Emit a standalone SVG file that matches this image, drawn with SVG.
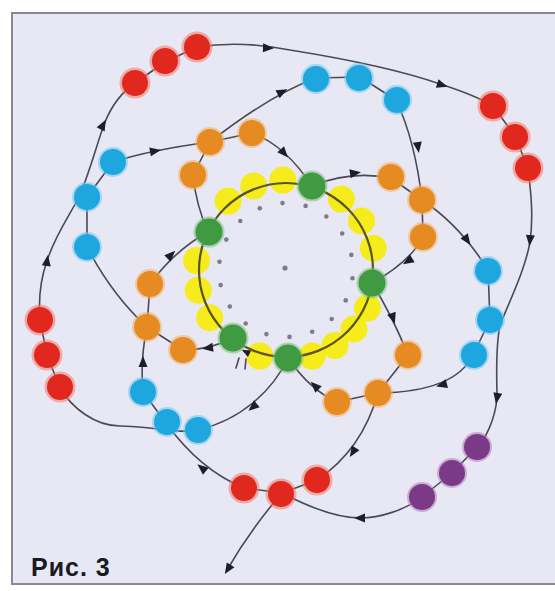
<svg xmlns="http://www.w3.org/2000/svg" width="555" height="591" viewBox="0 0 555 591">
<defs>
<path id="arr" d="M6,0 L-5,-4.5 L-5,4.5 Z"/>
<style>
.thread{fill:none;stroke:#4a4a55;stroke-width:1.6;stroke-linecap:round;stroke-linejoin:round}
.ring{fill:none;stroke:#5a5418;stroke-width:2.2}
.a{fill:#1e1e28}
.red{fill:#e0281e}.redh{fill:#f07a6a;opacity:.55}
.blue{fill:#1ea6df}.blueh{fill:#6cc8f0;opacity:.55}
.orange{fill:#e68a22}.orangeh{fill:#f2b060;opacity:.55}
.green{fill:#3f9a42}.greenh{fill:#7cc07a;opacity:.55}
.yellow{fill:#f6ec1c}
.purple{fill:#7b3a88}.purpleh{fill:#b07ab8;opacity:.55}
.num{fill:#7e7c8c}
.lbl{font-family:"Liberation Sans",Arial,sans-serif;font-weight:bold;font-size:25px;fill:#1a1a22;letter-spacing:1px}
</style>
</defs>
<rect x="0" y="0" width="555" height="591" fill="#ffffff"/>
<rect x="12" y="13" width="560" height="571" fill="#e8e7f4" stroke="#8e8696" stroke-width="2"/>

<g id="ring">
<g id="yellow-beads" class="yellow">
<circle cx="367.5" cy="308.1" r="13.5"/><circle cx="353.9" cy="329" r="13.5"/><circle cx="335" cy="345.5" r="13.5"/><circle cx="312.3" cy="356.1" r="13.5"/>
<circle cx="259.7" cy="356.1" r="13.5"/><circle cx="209.7" cy="317.7" r="13.5"/><circle cx="198.3" cy="290.2" r="13.5"/><circle cx="196.5" cy="260.6" r="13.5"/>
<circle cx="228.1" cy="201.1" r="13.5"/><circle cx="253.7" cy="186" r="13.5"/><circle cx="282.9" cy="180.1" r="13.5"/>
<circle cx="341.4" cy="199.1" r="13.5"/><circle cx="361.5" cy="221" r="13.5"/><circle cx="373.3" cy="248.2" r="13.5"/>
</g>
<circle class="ring" cx="286" cy="270" r="87"/>
<g id="marks" class="num">
<circle cx="285" cy="268" r="2.6"/>
<circle cx="282.5" cy="203.1" r="2.3"/><circle cx="305.6" cy="205.9" r="2.3"/><circle cx="326.3" cy="216.5" r="2.3"/><circle cx="342.2" cy="233.5" r="2.3"/>
<circle cx="351.3" cy="254.9" r="2.3"/><circle cx="352.5" cy="278.2" r="2.3"/><circle cx="345.7" cy="300.4" r="2.3"/><circle cx="331.7" cy="319" r="2.3"/>
<circle cx="312.2" cy="331.7" r="2.3"/><circle cx="289.5" cy="336.9" r="2.3"/><circle cx="266.4" cy="334.1" r="2.3"/><circle cx="245.7" cy="323.5" r="2.3"/>
<circle cx="229.8" cy="306.5" r="2.3"/><circle cx="220.7" cy="285.1" r="2.3"/><circle cx="219.5" cy="261.8" r="2.3"/><circle cx="226.3" cy="239.6" r="2.3"/>
<circle cx="240.3" cy="221" r="2.3"/><circle cx="259.8" cy="208.3" r="2.3"/>
</g>
</g>

<g id="connectors">
<path class="thread" d="M288,358 C272,392 240,420 198,430 C175,434 150,426 120,426 C95,426 72,408 60,388 L47,355 L40,320 C38,295 42,275 47,261 C55,235 70,215 80,195 C92,165 98,140 105,122 C112,105 122,92 135,83 L165,62 L197,47 C230,42 260,44 290,50 C340,58 400,70 440,84 C465,92 480,98 493,106 L515,136 L528,168 C532,200 533,220 530,242 C525,270 510,300 500,325 C495,350 497,380 497,398 C495,420 485,440 477,447 L452,473 L422,497 C405,510 380,518 360,518 C335,518 305,505 282,493 Q250,530 227,570"/>
<path class="thread" d="M372,283 Q392,315 408,355 L378,393 Q362,450 317,480 L282,493 L244,488 Q200,470 166,423 L143,392 Q140,360 147,327 L150,284 Q175,250 208,232 Q196,205 193,175 L210,142 Q270,95 316,78 L360,77 L396,100 Q415,140 422,200 L423,237 Q410,262 372,283"/>
<path class="thread" d="M233,338 Q210,350 183,350 L147,327 Q112,295 87,247 L87,197 L113,162 Q150,150 210,142 L252,133 Q285,145 312,186 Q350,170 391,178 L422,200 Q460,225 488,270 L490,320 L473,355 Q455,392 378,393 L337,402 Q310,390 288,358"/>
<path class="thread" d="M239,358 L236,368 M246,359 L245,369" stroke-width="1.2"/>
<g class="a">
<use href="#arr" transform="translate(103,125) rotate(-62)"/>
<use href="#arr" transform="translate(47,261) rotate(-82)"/>
<use href="#arr" transform="translate(155,151) rotate(-10)"/>
<use href="#arr" transform="translate(268,48) rotate(2)"/>
<use href="#arr" transform="translate(442,85) rotate(17)"/>
<use href="#arr" transform="translate(282,92) rotate(-28)"/>
<use href="#arr" transform="translate(284,153) rotate(48)"/>
<use href="#arr" transform="translate(355,173) rotate(-8)"/>
<use href="#arr" transform="translate(418,147) rotate(82)"/>
<use href="#arr" transform="translate(530,240) rotate(95)"/>
<use href="#arr" transform="translate(467,240) rotate(55)"/>
<use href="#arr" transform="translate(408,261) rotate(148)"/>
<use href="#arr" transform="translate(393,318) rotate(72)"/>
<use href="#arr" transform="translate(442,385) rotate(165)"/>
<use href="#arr" transform="translate(497,398) rotate(100)"/>
<use href="#arr" transform="translate(315,386) rotate(-135)"/>
<use href="#arr" transform="translate(353,452) rotate(122)"/>
<use href="#arr" transform="translate(360,518) rotate(180)"/>
<use href="#arr" transform="translate(253,407) rotate(140)"/>
<use href="#arr" transform="translate(202,468) rotate(-140)"/>
<use href="#arr" transform="translate(143,362) rotate(-90)"/>
<use href="#arr" transform="translate(171,255) rotate(-45)"/>
<use href="#arr" transform="translate(208,348) rotate(172)"/>
<use href="#arr" transform="translate(228,569) rotate(122)"/>
<use href="#arr" transform="translate(246,352) rotate(-153) scale(0.8)"/>
</g>
</g>

<g id="red-top-left"><circle class="redh" cx="135" cy="83" r="15.5"/><circle class="red" cx="135" cy="83" r="13"/><circle class="redh" cx="165" cy="61" r="15.5"/><circle class="red" cx="165" cy="61" r="13"/><circle class="redh" cx="197" cy="47" r="15.5"/><circle class="red" cx="197" cy="47" r="13"/></g>
<g id="red-top-right"><circle class="redh" cx="493" cy="106" r="15.5"/><circle class="red" cx="493" cy="106" r="13"/><circle class="redh" cx="515" cy="137" r="15.5"/><circle class="red" cx="515" cy="137" r="13"/><circle class="redh" cx="528" cy="168" r="15.5"/><circle class="red" cx="528" cy="168" r="13"/></g>
<g id="red-left"><circle class="redh" cx="40" cy="320" r="15.5"/><circle class="red" cx="40" cy="320" r="13"/><circle class="redh" cx="47" cy="355" r="15.5"/><circle class="red" cx="47" cy="355" r="13"/><circle class="redh" cx="60" cy="387" r="15.5"/><circle class="red" cx="60" cy="387" r="13"/></g>
<g id="red-bottom"><circle class="redh" cx="244" cy="488" r="15.5"/><circle class="red" cx="244" cy="488" r="13"/><circle class="redh" cx="281" cy="494" r="15.5"/><circle class="red" cx="281" cy="494" r="13"/><circle class="redh" cx="317" cy="480" r="15.5"/><circle class="red" cx="317" cy="480" r="13"/></g>
<g id="blue-top"><circle class="blueh" cx="316" cy="79" r="15"/><circle class="blue" cx="316" cy="79" r="13"/><circle class="blueh" cx="359" cy="78" r="15"/><circle class="blue" cx="359" cy="78" r="13"/><circle class="blueh" cx="397" cy="100" r="15"/><circle class="blue" cx="397" cy="100" r="13"/></g>
<g id="blue-left"><circle class="blueh" cx="113" cy="162" r="15"/><circle class="blue" cx="113" cy="162" r="13"/><circle class="blueh" cx="87" cy="197" r="15"/><circle class="blue" cx="87" cy="197" r="13"/><circle class="blueh" cx="87" cy="247" r="15"/><circle class="blue" cx="87" cy="247" r="13"/></g>
<g id="blue-right"><circle class="blueh" cx="488" cy="271" r="15"/><circle class="blue" cx="488" cy="271" r="13"/><circle class="blueh" cx="490" cy="320" r="15"/><circle class="blue" cx="490" cy="320" r="13"/><circle class="blueh" cx="474" cy="355" r="15"/><circle class="blue" cx="474" cy="355" r="13"/></g>
<g id="blue-bottom"><circle class="blueh" cx="143" cy="392" r="15"/><circle class="blue" cx="143" cy="392" r="13"/><circle class="blueh" cx="167" cy="422" r="15"/><circle class="blue" cx="167" cy="422" r="13"/><circle class="blueh" cx="198" cy="430" r="15"/><circle class="blue" cx="198" cy="430" r="13"/></g>
<g id="orange-top-left"><circle class="orangeh" cx="210" cy="142" r="15"/><circle class="orange" cx="210" cy="142" r="13"/><circle class="orangeh" cx="252" cy="133" r="15"/><circle class="orange" cx="252" cy="133" r="13"/><circle class="orangeh" cx="193" cy="175" r="15"/><circle class="orange" cx="193" cy="175" r="13"/></g>
<g id="orange-top-right"><circle class="orangeh" cx="391" cy="177" r="15"/><circle class="orange" cx="391" cy="177" r="13"/><circle class="orangeh" cx="422" cy="200" r="15"/><circle class="orange" cx="422" cy="200" r="13"/><circle class="orangeh" cx="423" cy="237" r="15"/><circle class="orange" cx="423" cy="237" r="13"/></g>
<g id="orange-left"><circle class="orangeh" cx="150" cy="284" r="15"/><circle class="orange" cx="150" cy="284" r="13"/><circle class="orangeh" cx="147" cy="327" r="15"/><circle class="orange" cx="147" cy="327" r="13"/><circle class="orangeh" cx="183" cy="350" r="15"/><circle class="orange" cx="183" cy="350" r="13"/></g>
<g id="orange-bottom-right"><circle class="orangeh" cx="408" cy="355" r="15"/><circle class="orange" cx="408" cy="355" r="13"/><circle class="orangeh" cx="378" cy="393" r="15"/><circle class="orange" cx="378" cy="393" r="13"/><circle class="orangeh" cx="337" cy="402" r="15"/><circle class="orange" cx="337" cy="402" r="13"/></g>
<g id="green-beads"><circle class="greenh" cx="312" cy="186" r="15.5"/><circle class="green" cx="312" cy="186" r="13.5"/><circle class="greenh" cx="209" cy="232" r="15.5"/><circle class="green" cx="209" cy="232" r="13.5"/><circle class="greenh" cx="372" cy="283" r="15.5"/><circle class="green" cx="372" cy="283" r="13.5"/><circle class="greenh" cx="233" cy="338" r="15.5"/><circle class="green" cx="233" cy="338" r="13.5"/><circle class="greenh" cx="288" cy="358" r="15.5"/><circle class="green" cx="288" cy="358" r="13.5"/></g>
<g id="purple-beads"><circle class="purpleh" cx="477" cy="447" r="15"/><circle class="purple" cx="477" cy="447" r="13"/><circle class="purpleh" cx="452" cy="473" r="15"/><circle class="purple" cx="452" cy="473" r="13"/><circle class="purpleh" cx="422" cy="497" r="15"/><circle class="purple" cx="422" cy="497" r="13"/></g>

<text class="lbl" x="31" y="576">Рис. 3</text>
</svg>
